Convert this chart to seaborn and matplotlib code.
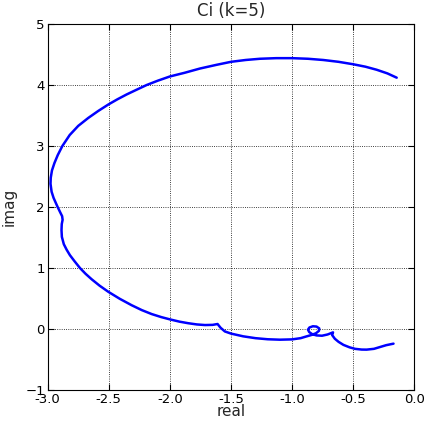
import matplotlib
matplotlib.use('Agg')
import matplotlib.pyplot as plt
import pandas as pd
import seaborn as sns

#%% valores (Ci, k=5)
real = [-0.144, -0.22, -0.308, -0.40, -0.50, -0.62, -0.745, -0.87, -1.00, -1.13,
        -1.263, -1.38, -1.50, -1.62, -1.754, -1.88, -2.00, -2.10, -2.19, -2.27,
        -2.354, -2.43, -2.504, -2.586, -2.668, -2.75, -2.82, -2.88, -2.918, -2.945,
        -2.965, -2.975, -2.977, -2.968, -2.952, -2.921, -2.897, -2.882, -2.878, -2.885,
        -2.887, -2.884, -2.868, -2.845, -2.818, -2.78, -2.736, -2.69, -2.64, -2.575,
        -2.504, -2.41, -2.313, -2.23, -2.149, -2.07, -2.00, -1.92, -1.85, -1.78,
        -1.713, -1.65, -1.61, -1.585, -1.55, -1.50, -1.40, -1.30, -1.20, -1.10,
        -1.00, -0.93, -0.88, -0.845, -0.805, -0.78, -0.778, -0.80, -0.83, -0.858,
        -0.87, -0.86, -0.835, -0.80, -0.755, -0.71, -0.665, -0.672, -0.65, -0.62,
        -0.58, -0.53, -0.485, -0.43, -0.39, -0.33, -0.28, -0.23, -0.17]
imag = [4.12, 4.19, 4.25, 4.30, 4.34, 4.38, 4.41, 4.43, 4.44, 4.44,
        4.43, 4.41, 4.38, 4.33, 4.27, 4.20, 4.14, 4.07, 4.00, 3.925,
        3.845, 3.765, 3.68, 3.575, 3.46, 3.33, 3.18, 3.00, 2.85, 2.72,
        2.60, 2.48, 2.38, 2.25, 2.15, 2.01, 1.91, 1.85, 1.79, 1.72,
        1.62, 1.51, 1.39, 1.30, 1.21, 1.11, 1.00, 0.905, 0.815, 0.71,
        0.61, 0.495, 0.39, 0.31, 0.245, 0.195, 0.158, 0.12, 0.095, 0.075,
        0.065, 0.068, 0.082, 0.02, -0.04, -0.075, -0.12, -0.15, -0.168, -0.175,
        -0.17, -0.15, -0.12, -0.10, -0.07, -0.03, 0.01, 0.04, 0.045, 0.025,
        -0.01, -0.05, -0.085, -0.105, -0.11, -0.09, -0.055, -0.10, -0.16, -0.21,
        -0.26, -0.30, -0.325, -0.337, -0.338, -0.325, -0.295, -0.265, -0.24]

xticks = [-3.0, -2.5, -2.0, -1.5, -1.0, -0.5, 0.0]
yticks = [-1, 0, 1, 2, 3, 4, 5]

read = pd.DataFrame({'real': real, 'imag': imag})

sns.set_style("white")
plt.rcParams['font.family'] = ['DejaVu Sans']
plt.rcParams['axes.unicode_minus'] = True

fig = plt.figure(figsize=(4.24, 4.21), dpi=100)
ax = fig.add_axes([0.1125, 0.0736, 0.8646, 0.8694])
sns.lineplot(data=read, x='real', y='imag', sort=False, estimator=None,
             color='#0000ff', linewidth=1.8, ax=ax)

ax.set_xlim(-3.0, 0.0)
ax.set_ylim(-1, 5)
ax.set_xticks(xticks)
ax.set_yticks(yticks)
ax.set_xticklabels(['%.1f' % t for t in xticks])
ax.tick_params(direction='in', length=4, width=0.8, labelsize=9.5, colors='black',
               pad=2, top=True, right=True, bottom=True, left=True)
ax.grid(True, color='black', linestyle=':', linewidth=0.6)
for s in ax.spines.values():
    s.set_color('black')
    s.set_linewidth(0.8)

plt.title('Ci (k=5)', fontsize=12)
plt.xlabel('real', fontsize=11, labelpad=-1)
plt.ylabel('imag', fontsize=11, labelpad=6)
plt.savefig('out.png', dpi=100)
